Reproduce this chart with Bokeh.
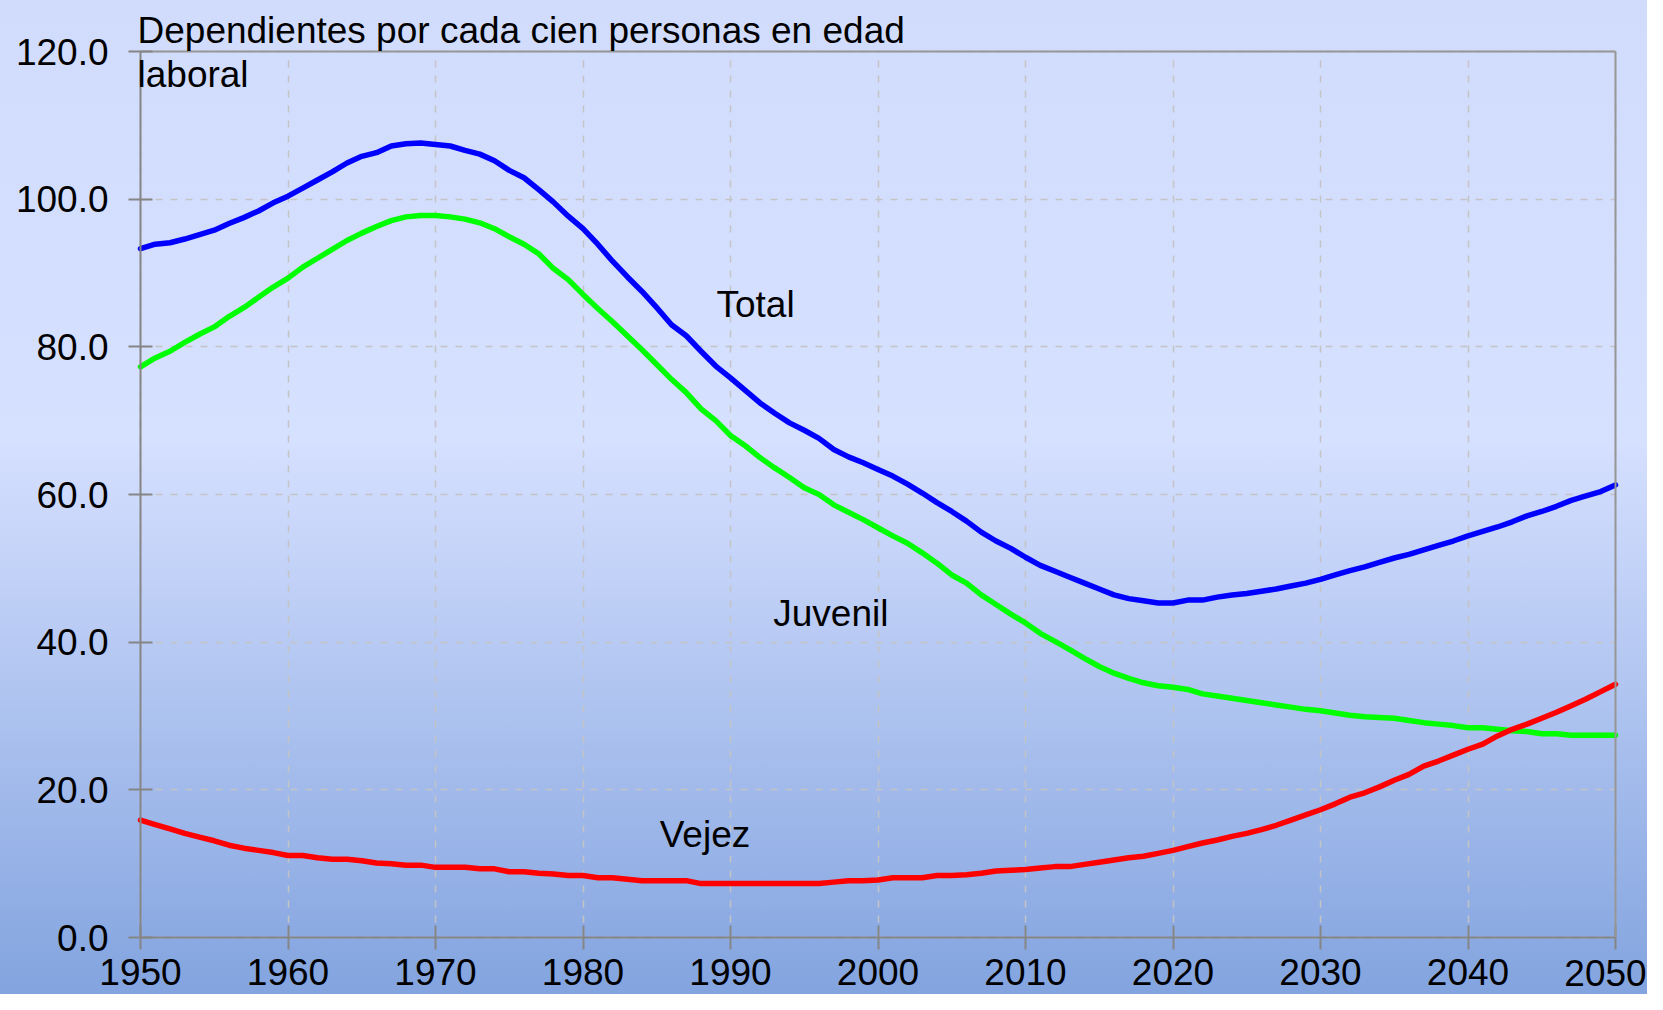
from bokeh.plotting import figure
from bokeh.models import Range1d, Label, ColumnDataSource, LinearAxis, FixedTicker, Grid
from bokeh.embed import file_html
from bokeh.resources import INLINE
from bokeh.core.properties import value

# ---------------- data ----------------
years = list(range(1950, 2051))

total = [
    93.3, 93.9, 94.1, 94.6, 95.2, 95.8, 96.7, 97.5, 98.4, 99.5,
    100.4, 101.5, 102.6, 103.7, 104.9, 105.8, 106.3, 107.2, 107.5, 107.6,
    107.4, 107.2, 106.6, 106.1, 105.2, 103.9, 102.9, 101.3, 99.6, 97.7,
    96.0, 93.9, 91.6, 89.5, 87.5, 85.3, 83.0, 81.5, 79.4, 77.4,
    75.8, 74.1, 72.4, 71.0, 69.7, 68.7, 67.6, 66.1, 65.1, 64.3,
    63.4, 62.5, 61.4, 60.2, 58.9, 57.7, 56.4, 54.9, 53.7, 52.7,
    51.5, 50.4, 49.6, 48.8, 48.0, 47.2, 46.4, 45.9, 45.6, 45.3,
    45.3, 45.7, 45.7, 46.1, 46.4, 46.6, 46.9, 47.2, 47.6, 48.0,
    48.5, 49.1, 49.7, 50.2, 50.8, 51.4, 51.9, 52.5, 53.1, 53.7,
    54.4, 55.0, 55.6, 56.3, 57.1, 57.7, 58.4, 59.2, 59.8, 60.4,
    61.3,
]

juvenil = [
    77.3, 78.5, 79.4, 80.6, 81.7, 82.7, 84.1, 85.3, 86.7, 88.1,
    89.3, 90.8, 92.0, 93.2, 94.4, 95.4, 96.3, 97.1, 97.6, 97.8,
    97.8, 97.6, 97.3, 96.8, 96.0, 94.9, 93.9, 92.6, 90.6, 89.1,
    87.1, 85.2, 83.4, 81.5, 79.6, 77.6, 75.6, 73.8, 71.6, 70.0,
    68.0, 66.6, 65.0, 63.6, 62.3, 60.9, 60.0, 58.6, 57.6, 56.6,
    55.5, 54.4, 53.4, 52.1, 50.7, 49.1, 48.0, 46.4, 45.1, 43.8,
    42.6, 41.2, 40.1, 39.0, 37.8, 36.7, 35.8, 35.1, 34.5, 34.1,
    33.9, 33.6, 33.0, 32.7, 32.4, 32.1, 31.8, 31.5, 31.2, 30.9,
    30.7, 30.4, 30.1, 29.9, 29.8, 29.7, 29.4, 29.1, 28.9, 28.7,
    28.4, 28.4, 28.2, 28.0, 27.9, 27.6, 27.6, 27.4, 27.4, 27.4,
    27.4,
]

vejez = [
    15.9, 15.3, 14.7, 14.1, 13.6, 13.1, 12.5, 12.1, 11.8, 11.5,
    11.1, 11.1, 10.8, 10.6, 10.6, 10.4, 10.1, 10.0, 9.8, 9.8,
    9.5, 9.5, 9.5, 9.3, 9.3, 8.9, 8.9, 8.7, 8.6, 8.4,
    8.4, 8.1, 8.1, 7.9, 7.7, 7.7, 7.7, 7.7, 7.3, 7.3,
    7.3, 7.3, 7.3, 7.3, 7.3, 7.3, 7.3, 7.5, 7.7, 7.7,
    7.8, 8.1, 8.1, 8.1, 8.4, 8.4, 8.5, 8.7, 9.0, 9.1,
    9.2, 9.4, 9.6, 9.6, 9.9, 10.2, 10.5, 10.8, 11.0, 11.4,
    11.8, 12.3, 12.8, 13.2, 13.7, 14.1, 14.6, 15.2, 15.9, 16.6,
    17.3, 18.1, 19.0, 19.6, 20.4, 21.3, 22.1, 23.2, 23.9, 24.7,
    25.5, 26.2, 27.3, 28.2, 28.9, 29.7, 30.5, 31.4, 32.3, 33.3,
    34.3,
]

x_ticks = [1950, 1960, 1970, 1980, 1990, 2000, 2010, 2020, 2030, 2040, 2050]
x_tick_labels = ["1950", "1960", "1970", "1980", "1990", "2000",
                 "2010", "2020", "2030", "2040", "2050"]
y_ticks = [0, 20, 40, 60, 80, 100, 120]
y_tick_labels = ["0.0", "20.0", "40.0", "60.0", "80.0", "100.0", "120.0"]

y_title_lines = ["Dependientes por cada cien personas en edad", "laboral"]
series_names = ["Total", "Juvenil", "Vejez"]

# ---------------- layout (pixels) ----------------
W, H = 1647, 994
PLOT_L, PLOT_R, PLOT_T, PLOT_B = 140, 1615, 51, 937   # axis box in canvas pixels
X0, X1 = x_ticks[0], x_ticks[-1]
Y0, Y1 = y_ticks[0], y_ticks[-1]
px_x = (PLOT_R - PLOT_L) / (X1 - X0)
px_y = (PLOT_B - PLOT_T) / (Y1 - Y0)
x_start = X0 - PLOT_L / px_x
x_end = X1 + (W - PLOT_R) / px_x
y_start = Y0 - (H - PLOT_B) / px_y
y_end = Y1 + PLOT_T / px_y

TICK = 12
X_STANDOFF = 9
TEXT_DY = 12.5          # correction: rendered alphabetic baseline sits this much lower
FONT = "Liberation Sans"
FSIZE = "37px"
AXIS_COLOR = "#858585"
BORDER_COLOR = "#969696"


def dy(px):
    """pixel distance -> data units on y"""
    return px / px_y


p = figure(
    width=W, height=H,
    x_range=Range1d(x_start, x_end), y_range=Range1d(y_start, y_end),
    x_axis_location=None, y_axis_location=None,
    output_backend="svg", toolbar_location=None,
    min_border=0,
)
p.background_fill_color = None
p.border_fill_color = None
p.outline_line_color = None
p.styles = {"background": "linear-gradient(to bottom, #D1DCFC 0px, #D6E0FF 440px, #80A2DE 1010px)"}


def style_axis(ax, ticks, labels):
    ax.ticker = FixedTicker(ticks=ticks)
    ax.major_label_overrides = {t: l for t, l in zip(ticks, labels)}
    ax.axis_line_color = AXIS_COLOR
    ax.axis_line_width = 2
    ax.major_tick_line_color = AXIS_COLOR
    ax.major_tick_line_width = 2
    ax.major_tick_in = TICK
    ax.major_tick_out = TICK
    ax.minor_tick_line_color = None
    ax.major_label_text_font = FONT
    ax.major_label_text_font_size = FSIZE
    ax.major_label_text_color = "#000000"


# y axis on x = 1950
yax = LinearAxis(fixed_location=X0, bounds=(Y0, Y1))
style_axis(yax, y_ticks, y_tick_labels)
yax.major_label_standoff = 20
p.add_layout(yax, "left")

# x axis on y = 0 (last label is drawn separately so that it stays inside the canvas)
xax = LinearAxis(fixed_location=Y0, bounds=(X0, X1))
style_axis(xax, x_ticks, x_tick_labels[:-1] + [""])
xax.major_label_standoff = X_STANDOFF
p.add_layout(xax, "below")

baseline_px = TICK + X_STANDOFF + 26.5   # cap height of the digits below the axis
p.add_layout(Label(x=x_ticks[-1], y=Y0 - dy(baseline_px - TEXT_DY), x_offset=-10,
                   text=x_tick_labels[-1], text_font=FONT, text_font_size=FSIZE,
                   text_color="#000000", text_align="center", text_baseline="alphabetic"))

# top and right border lines
top = LinearAxis(fixed_location=Y1, bounds=(X0, X1), ticker=FixedTicker(ticks=[]),
                 axis_line_color=BORDER_COLOR, axis_line_width=2,
                 major_tick_line_color=None, minor_tick_line_color=None,
                 major_label_text_font_size="0px")
p.add_layout(top, "above")
right = LinearAxis(fixed_location=X1, bounds=(Y0, Y1), ticker=FixedTicker(ticks=[]),
                   axis_line_color=BORDER_COLOR, axis_line_width=2,
                   major_tick_line_color=None, minor_tick_line_color=None,
                   major_label_text_font_size="0px")
p.add_layout(right, "right")

# grids
GRID_COLOR = "#C4C4C4"
has_cross = "cross_bounds" in Grid.properties()
p.xgrid.ticker = FixedTicker(ticks=x_ticks)
p.ygrid.ticker = FixedTicker(ticks=y_ticks)
for g in (p.xgrid, p.ygrid):
    g.grid_line_color = GRID_COLOR
    g.grid_line_width = 1.5
    g.grid_line_dash = "7 8"
if has_cross:
    p.xgrid.bounds = (X0, X1)
    p.ygrid.bounds = (Y0, Y1)
    p.xgrid.cross_bounds = (Y0, Y1)
    p.ygrid.cross_bounds = (X0, X1)
else:
    p.xgrid.grid_line_color = None
    p.ygrid.grid_line_color = None
    p.segment(x0=x_ticks, y0=[Y0] * len(x_ticks), x1=x_ticks, y1=[Y1] * len(x_ticks),
              line_color=GRID_COLOR, line_width=1.5, line_dash="7 8")
    p.segment(x0=[X0] * len(y_ticks), y0=y_ticks, x1=[X1] * len(y_ticks), y1=y_ticks,
              line_color=GRID_COLOR, line_width=1.5, line_dash="7 8")

# ---------------- series ----------------
src = ColumnDataSource(dict(year=years, total=total, juvenil=juvenil, vejez=vejez))
for col, color in (("total", "#0000FF"), ("juvenil", "#00FF00"), ("vejez", "#FF0000")):
    p.line("year", col, source=src, line_color=color, line_width=5.5,
           line_join="round", line_cap="round")

# series labels
label_x = [1989.05, 1992.9, 1985.2]
label_y = [84.0, 42.2, 12.3]
p.text(x=label_x, y=[v + dy(TEXT_DY) for v in label_y], text=series_names,
       text_font=value(FONT), text_font_size=FSIZE, text_color="#000000",
       text_align="left", text_baseline="alphabetic")

# axis title (two lines, top left)
p.add_layout(Label(x=X0, y=Y1 + dy(8.3 + TEXT_DY), x_offset=-3, text=y_title_lines[0],
                   text_font=FONT, text_font_size=FSIZE, text_color="#000000",
                   text_align="left", text_baseline="alphabetic"))
p.add_layout(Label(x=X0, y=Y1 - dy(35.0 - TEXT_DY), x_offset=-3, text=y_title_lines[1],
                   text_font=FONT, text_font_size=FSIZE, text_color="#000000",
                   text_align="left", text_baseline="alphabetic"))

open("out.html", "w").write(file_html(p, INLINE))
